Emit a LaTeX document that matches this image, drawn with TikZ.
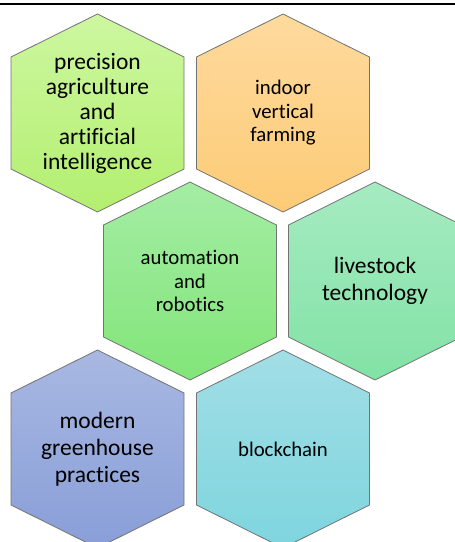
\documentclass[tikz,border=0pt]{standalone}
\usepackage{fontspec}
\setmainfont{Carlito}[Ligatures={NoCommon}]
\definecolor{aT}{HTML}{CDF7A0}\definecolor{aB}{HTML}{B3EF70}
\definecolor{bT}{HTML}{FEDA9E}\definecolor{bB}{HTML}{FDCB76}
\definecolor{cT}{HTML}{A4EDA4}\definecolor{cB}{HTML}{82E579}
\definecolor{dT}{HTML}{A6EBC2}\definecolor{dB}{HTML}{82E2A5}
\definecolor{eT}{HTML}{A8B8E2}\definecolor{eB}{HTML}{899ED8}
\definecolor{fT}{HTML}{A2DEE6}\definecolor{fB}{HTML}{7ED5DE}
\tikzset{
  hexfill/.style={draw=black!55, line width=0.8pt, line join=miter},
  hextext/.style={align=center, inner sep=0pt, text=black},
}
\newcommand{\myhex}[7]{%
  \path[hexfill, top color=#4, bottom color=#5]
    (#2,#3) ++(0,99) -- ++(86.5,-43) -- ++(0,-112) -- ++(-86.5,-43)
    -- ++(-86.5,43) -- ++(0,112) -- cycle;
  \node[hextext, font=#6] (#1) at (#2,#3) {#7};
}
\begin{document}
\begin{tikzpicture}[x=1pt,y=1pt]
\clip (0,0) rectangle (455,542);
\fill[white] (0,0) rectangle (455,542);
\myhex{h1}{97.5}{429}{aT}{aB}{\fontsize{23.5}{25}\selectfont}{precision\\agriculture\\and\\artificial\\intelligence}
\myhex{h2}{283}{429}{bT}{bB}{\fontsize{20.8}{23.5}\selectfont}{indoor\\vertical\\farming}
\myhex{h3}{190}{261}{cT}{cB}{\fontsize{20.8}{23.5}\selectfont}{automation\\and\\robotics}
\myhex{h4}{375}{261}{dT}{dB}{\fontsize{23.5}{27}\selectfont}{livestock\\technology}
\myhex{h5}{97.5}{93}{eT}{eB}{\fontsize{23.5}{27}\selectfont}{modern\\greenhouse\\practices}
\myhex{h6}{283}{93}{fT}{fB}{\fontsize{20.8}{23.5}\selectfont}{blockchain}
\coordinate (ruleL) at (0,538);
\coordinate (ruleR) at (455,538);
\draw[line width=2pt] (ruleL) -- (ruleR);
\end{tikzpicture}
\end{document}
